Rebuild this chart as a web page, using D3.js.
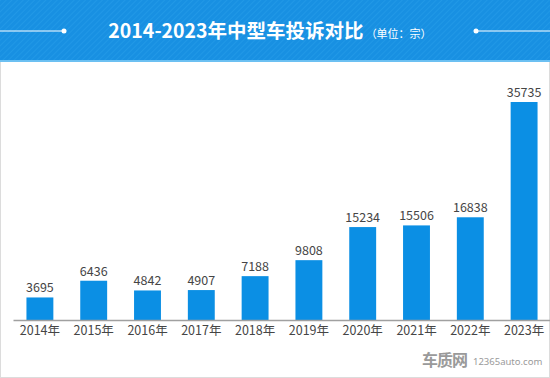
<!DOCTYPE html>
<html><head><meta charset="utf-8">
<script src="https://cdn.jsdelivr.net/npm/d3@7/dist/d3.min.js"></script>
<style>body{margin:0;background:#fff}svg{display:block}</style>
</head><body>
<script>
const years = ["2014年","2015年","2016年","2017年","2018年","2019年","2020年","2021年","2022年","2023年"];
const complaints = [3695,6436,4842,4907,7188,9808,15234,15506,16838,35735];
const titleMain = "2014-2023年中型车投诉对比";
const titleUnit = "（单位：宗）";

const W = 550, H = 378;
const svg = d3.select("body").append("svg").attr("width", W).attr("height", H);
const defs = svg.append("defs");
const pat = defs.append("pattern").attr("id","stripe").attr("width",4).attr("height",4)
  .attr("patternUnits","userSpaceOnUse").attr("patternTransform","rotate(45)");
pat.append("rect").attr("width",4).attr("height",4).attr("fill","#1890e2");
pat.append("rect").attr("width",1).attr("height",4).attr("fill","#2198e6");

svg.append("rect").attr("x",0.5).attr("y",0.5).attr("width",W-1).attr("height",H-1)
  .attr("fill","#fff").attr("stroke","#dcdcdc");
svg.append("rect").attr("x",0).attr("y",0).attr("width",W).attr("height",61).attr("fill","url(#stripe)");
svg.append("rect").attr("x",0).attr("y",60).attr("width",W).attr("height",2).attr("fill","#6cc0f2");

// decorative lines
svg.append("line").attr("x1",0).attr("x2",64).attr("y1",31).attr("y2",31).attr("stroke","#fff").attr("stroke-width",1);
svg.append("circle").attr("cx",64).attr("cy",31).attr("r",2.5).attr("fill","#fff");
svg.append("line").attr("x1",476).attr("x2",W).attr("y1",31).attr("y2",31).attr("stroke","#fff").attr("stroke-width",1);
svg.append("circle").attr("cx",476).attr("cy",31).attr("r",2.5).attr("fill","#fff");

const t = svg.append("text").attr("x",270).attr("y",38).attr("text-anchor","middle")
  .attr("font-family","'Noto Sans CJK SC', sans-serif").attr("fill","#fff");
t.append("tspan").attr("font-size",19.5).attr("font-weight","bold").text(titleMain);
t.append("tspan").attr("font-size",11).attr("dx",2).text(titleUnit);

const x = d3.scaleBand().domain(years).range([13, 551]).paddingInner(0.5).paddingOuter(0.25);
const y = d3.scaleLinear().domain([0, 35735]).range([320, 102]);

const g = svg.append("g");
g.selectAll("rect.bar").data(complaints).join("rect").attr("class","bar")
  .attr("x",(d,i)=>x(years[i])).attr("width",x.bandwidth())
  .attr("y",d=>y(d)).attr("height",d=>y(0)-y(d)).attr("fill","#0b8fe4");

g.selectAll("text.val").data(complaints).join("text").attr("class","val")
  .attr("x",(d,i)=>x(years[i])+x.bandwidth()/2).attr("y",d=>y(d)-5)
  .attr("text-anchor","middle").attr("font-family","'Noto Sans CJK SC', sans-serif")
  .attr("font-size",12.5).attr("fill","#454545").text(d=>d);

const ax = svg.append("g").attr("transform","translate(0,320)")
  .call(d3.axisBottom(x).tickSize(0).tickPadding(6));
ax.select(".domain").attr("stroke","#a0a0a0").attr("stroke-width",1.5);
ax.selectAll("text").attr("font-family","'Noto Sans CJK SC', sans-serif").attr("font-size",12.5).attr("fill","#454545");

// watermark
const wm = svg.append("g").attr("fill","#9a9a9a");
wm.append("text").attr("x",422).attr("y",366).attr("font-family","'Noto Sans CJK SC', sans-serif")
  .attr("font-size",16).attr("font-weight","bold").attr("letter-spacing",-1).text("车质网");
wm.append("text").attr("x",473).attr("y",365).attr("font-family","'Noto Sans', sans-serif")
  .attr("font-size",9.5).text("12365auto.com");
</script>
</body></html>
